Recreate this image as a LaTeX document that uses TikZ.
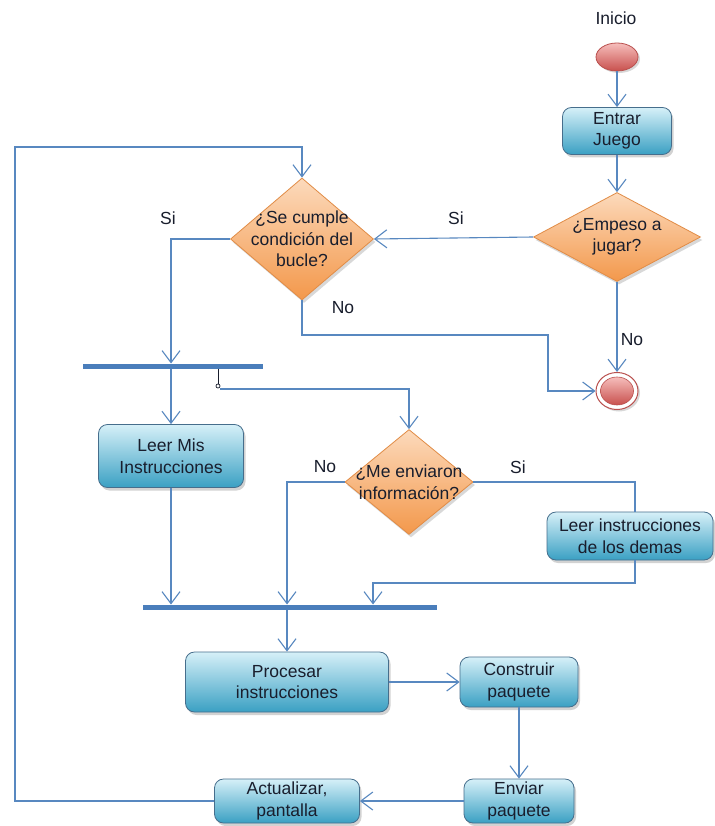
\documentclass[tikz,border=0pt]{standalone}
\usepackage{fontspec}
\setmainfont{Liberation Sans}
\usetikzlibrary{arrows.meta,shapes.geometric,shadows}
\definecolor{ln}{RGB}{88,136,192}
\definecolor{barc}{RGB}{74,126,187}
\definecolor{txtc}{RGB}{25,30,45}
\definecolor{boxtop}{RGB}{214,240,248}
\definecolor{boxbot}{RGB}{58,160,195}
\definecolor{boxdraw}{RGB}{70,110,140}
\definecolor{diatop}{RGB}{252,218,188}
\definecolor{diabot}{RGB}{243,152,75}
\definecolor{diadraw}{RGB}{225,140,70}
\definecolor{redtop}{RGB}{246,190,188}
\definecolor{redbot}{RGB}{200,80,77}
\definecolor{reddraw}{RGB}{185,80,78}
\tikzset{
  conn/.style={draw=ln, line width=1.1pt},
  arr/.style={conn, -{Straight Barb[length=12pt,width=18pt,line width=1.1pt]}},
  stepbox/.style={rectangle, rounded corners=9pt, draw=boxdraw, line width=0.8pt,
    top color=boxtop, bottom color=boxbot, align=center, text=txtc, inner sep=2pt,
    drop shadow={shadow xshift=2pt, shadow yshift=-3pt, opacity=0.35}},
  dia/.style={diamond, draw=diadraw, line width=0.8pt, top color=diatop, bottom color=diabot,
    inner sep=0pt, drop shadow={shadow xshift=2pt, shadow yshift=-3pt, opacity=0.3}},
  diatext/.style={align=center, text=txtc, inner sep=0pt},
  lbl/.style={text=txtc, inner sep=0pt},
  forkbar/.style={rectangle, fill=barc, inner sep=0pt, minimum height=5pt},
}
\begin{document}
\begin{tikzpicture}[x=1pt,y=-1pt, font=\fontsize{17.5}{21.5}\selectfont]
\useasboundingbox (0,0) rectangle (714,826);
\fill[white] (0,0) rectangle (714,826);

% nodes
\node[lbl] (inicio) at (616,18) {Inicio};
\node[ellipse, draw=reddraw, line width=0.8pt, top color=redtop, bottom color=redbot,
  minimum width=42pt, minimum height=28pt, inner sep=0pt,
  drop shadow={shadow xshift=2pt, shadow yshift=-2pt, opacity=0.3}] (start) at (617,57) {};
\node[stepbox, minimum width=109pt, minimum height=47pt] (entrar) at (617,131) {Entrar\\Juego};

\node[dia, minimum width=167pt, minimum height=89pt] (emp) at (617,237) {};
\node[diatext] at (emp) {¿Empeso a\\jugar?};

\node[dia, minimum width=143pt, minimum height=122pt] (cond) at (302,239) {};
\node[diatext] at (cond) {¿Se cumple\\condición del\\bucle?};

\node[ellipse, draw=reddraw, line width=1pt, fill=white, minimum width=42pt, minimum height=37pt,
  inner sep=0pt, drop shadow={shadow xshift=2pt, shadow yshift=-2pt, opacity=0.3}] (fin) at (617,391) {};
\node[ellipse, draw=reddraw, line width=0.6pt, top color=redtop, bottom color=redbot,
  minimum width=33pt, minimum height=28pt, inner sep=0pt] (fininner) at (fin) {};

\node[forkbar, minimum width=180pt] (bar1) at (173,366) {};
\node[stepbox, minimum width=145pt, minimum height=63pt] (leermis) at (171,456) {Leer Mis\\Instrucciones};

\node[dia, minimum width=128pt, minimum height=105pt] (env) at (409,482) {};
\node[diatext] at (env) {¿Me enviaron\\información?};

\node[stepbox, minimum width=166pt, minimum height=48pt] (leerdem) at (630,536) {Leer instrucciones\\de los demas};

\node[forkbar, minimum width=294pt] (bar2) at (290,607) {};

\node[stepbox, minimum width=203pt, minimum height=60pt] (proc) at (287,682) {Procesar\\instrucciones};
\node[stepbox, minimum width=118pt, minimum height=50pt] (cons) at (519,682) {Construir\\paquete};
\node[stepbox, minimum width=110pt, minimum height=44pt] (envp) at (519,801) {Enviar\\paquete};
\node[stepbox, minimum width=145pt, minimum height=44pt] (act) at (287,801) {Actualizar,\\pantalla};

% coordinates on bars
\coordinate (b1in) at (171,363.5);
\coordinate (b1out) at (171,368.5);
\coordinate (b1tap) at (218,368.5);
\coordinate (b2a) at (171,604.5);
\coordinate (b2b) at (287,604.5);
\coordinate (b2c) at (373,604.5);
\coordinate (b2out) at (287,609.5);

% connectors
\draw[arr] (start) -- (entrar);
\draw[arr] (entrar) -- (emp.north);
\draw[arr] (emp.west) -- (cond.east);
\draw[arr] (emp.south) -- (fin.north);
\draw[arr] (cond.south) |- (548,335) |- (fin.west);
\draw[arr] (cond.west) -| (b1in);
\draw[arr] (act.west) -| (15,147) -| (cond.north);
\draw[arr] (b1out) -- (leermis.north);
\draw[draw=txtc, line width=0.7pt] (b1tap) -- (218,384);
\draw[draw=txtc, line width=0.7pt] (218,386) circle (2pt);
\draw[arr] (220,389) -| (env.north);
\draw[arr] (env.west) -| (b2b);
\draw[conn] (env.east) -| ([xshift=5pt]leerdem.north);
\draw[arr] ([xshift=5pt]leerdem.south) |- (373,583) -- (b2c);
\draw[arr] (leermis.south) -- (b2a);
\draw[arr] (b2out) -- (proc.north);
\draw[arr] (proc.east) -- (cons.west);
\draw[arr] (cons.south) -- (envp.north);
\draw[arr] (envp.west) -- (act.east);

% labels
\node[lbl] (si1) at (456,218) {Si};
\node[lbl] (si2) at (168,218) {Si};
\node[lbl] (no1) at (343,308) {No};
\node[lbl] (no2) at (632,340) {No};
\node[lbl] (no3) at (325,467) {No};
\node[lbl] (si3) at (518,467) {Si};
\end{tikzpicture}
\end{document}
